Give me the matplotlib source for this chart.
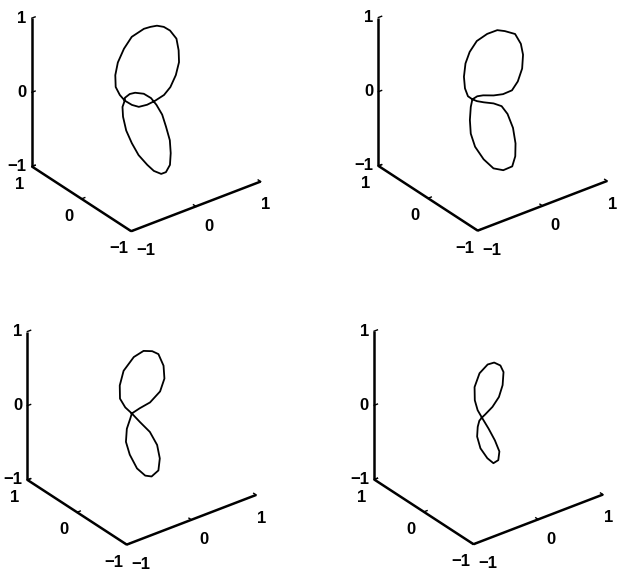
import matplotlib
matplotlib.use("Agg")
import matplotlib.pyplot as plt
from mpl_toolkits.mplot3d import proj3d

# Closed space curves, one per panel (x, y, z samples along the curve)
top_left_x = [-0.21, -0.24, -0.25, -0.21, -0.14, -0.03, 0.09, 0.24, 0.31, 0.38, 0.44, 0.49,
              0.52, 0.50, 0.46, 0.38, 0.28, 0.19, 0.08, -0.01, -0.10, -0.16, -0.21,
              -0.26, -0.29, -0.31, -0.30, -0.28, -0.23, -0.19, -0.13, -0.08, -0.01, 0.04,
              0.08, 0.09, 0.10, 0.08, 0.05, 0.00, -0.08, -0.14, -0.20, -0.21]
top_left_y = [0.16, 0.22, 0.29, 0.35, 0.39, 0.41, 0.41, 0.36, 0.32, 0.28, 0.22, 0.16,
              0.07, 0.00, -0.06, -0.10, -0.12, -0.11, -0.07, -0.03, 0.02, 0.08, 0.16,
              0.14, 0.09, 0.00, -0.10, -0.21, -0.32, -0.40, -0.47, -0.50, -0.49, -0.44,
              -0.37, -0.28, -0.19, -0.10, -0.03, 0.05, 0.12, 0.15, 0.17, 0.16]
top_left_z = [-0.01, 0.05, 0.13, 0.25, 0.38, 0.52, 0.64, 0.72, 0.74, 0.75, 0.74, 0.70,
              0.62, 0.50, 0.38, 0.25, 0.13, 0.05, -0.01, -0.05, -0.07, -0.05, -0.01,
              -0.07, -0.17, -0.31, -0.44, -0.56, -0.66, -0.72, -0.75, -0.73, -0.66, -0.54,
              -0.41, -0.27, -0.15, -0.05, 0.02, 0.06, 0.07, 0.06, 0.02, -0.01]

top_right_x = [-0.20, -0.16, -0.10, -0.01, 0.06, 0.09, 0.09, 0.06, 0.01, -0.06, -0.16, -0.25,
               -0.31, -0.35, -0.34, -0.30, -0.24, -0.20,
               -0.14, -0.08, 0.02, 0.12, 0.22, 0.31, 0.40, 0.46, 0.48, 0.46, 0.37, 0.30,
               0.19, 0.06, -0.05, -0.13, -0.20, -0.23, -0.23, -0.20]
top_right_y = [0.15, 0.11, 0.05, -0.03, -0.10, -0.18, -0.29, -0.38, -0.44, -0.47, -0.42, -0.34,
               -0.22, -0.10, 0.00, 0.07, 0.13, 0.15,
               0.13, 0.09, 0.01, -0.05, -0.10, -0.10, -0.07, -0.01, 0.06, 0.15, 0.24, 0.30,
               0.36, 0.40, 0.40, 0.38, 0.32, 0.26, 0.20, 0.15]
top_right_z = [0.00, -0.02, -0.03, -0.04, -0.07, -0.15, -0.29, -0.45, -0.58, -0.68, -0.72, -0.70,
               -0.61, -0.48, -0.35, -0.21, -0.08, 0.00,
               0.03, 0.04, 0.04, 0.05, 0.09, 0.18, 0.31, 0.45, 0.56, 0.66, 0.69, 0.70,
               0.66, 0.59, 0.48, 0.36, 0.23, 0.11, 0.03, 0.00]

bottom_left_x = [-0.10, -0.05, 0.01, 0.03, 0.01, -0.05, -0.14, -0.20, -0.25, -0.27, -0.26,
                 -0.20, -0.13, -0.10,
                 0.00, 0.12, 0.26, 0.35, 0.39, 0.38, 0.33, 0.25, 0.13, -0.02, -0.11, -0.16,
                 -0.14, -0.10]
bottom_left_y = [0.07, -0.03, -0.15, -0.27, -0.35, -0.40, -0.38, -0.33, -0.23, -0.11, -0.02,
                 0.04, 0.06, 0.07,
                 0.04, -0.01, -0.03, 0.00, 0.07, 0.16, 0.22, 0.29, 0.33, 0.34, 0.30, 0.23,
                 0.15, 0.07]
bottom_left_z = [0.00, -0.09, -0.19, -0.32, -0.46, -0.58, -0.64, -0.63, -0.56, -0.42, -0.29,
                 -0.16, -0.05, 0.00,
                 0.05, 0.11, 0.22, 0.35, 0.48, 0.60, 0.63, 0.63, 0.57, 0.43, 0.28, 0.15,
                 0.06, 0.00]

bottom_right_x = [-0.08, -0.06, -0.04, -0.04, -0.08, -0.14, -0.18, -0.21, -0.20, -0.16, -0.12,
                  -0.08,
                  -0.04, 0.06, 0.16, 0.24, 0.30, 0.29, 0.24, 0.17, 0.06, -0.04, -0.09, -0.10,
                  -0.08]
bottom_right_y = [0.03, -0.08, -0.18, -0.27, -0.30, -0.28, -0.21, -0.11, -0.03, 0.01, 0.03,
                  0.03,
                  0.02, 0.00, 0.00, 0.03, 0.09, 0.14, 0.20, 0.24, 0.26, 0.23, 0.16, 0.09,
                  0.03]
bottom_right_z = [-0.05, -0.16, -0.28, -0.39, -0.48, -0.51, -0.46, -0.36, -0.24, -0.14, -0.08,
                  -0.05,
                  -0.02, 0.06, 0.16, 0.28, 0.41, 0.48, 0.51, 0.49, 0.40, 0.26, 0.13, 0.03,
                  -0.05]

ticks = [-1, 0, 1]
tick_labels = ["\u22121", "0", "1"]
# small nudges of the x tick labels along the axis
x_label_nudge = [-0.01, -0.03, -0.15]

FIG_W, FIG_H = 619, 572
AX_SIZE = 279  # px, square 3d axes
# pixel centres of the four axes (from the top-left of the figure)
centres = [(142.5, 103.6), (489, 103), (138, 417), (484.8, 416.6)]
curves = [
    (top_left_x, top_left_y, top_left_z),
    (top_right_x, top_right_y, top_right_z),
    (bottom_left_x, bottom_left_y, bottom_left_z),
    (bottom_right_x, bottom_right_y, bottom_right_z),
]

FONT = dict(family="Liberation Sans", fontsize=12, fontweight="bold", color="black")


def label(ax, x, y, z, s, **kw):
    # project the 3d anchor and put a plain 2d text there
    xp, yp, _ = proj3d.proj_transform(x, y, z, ax.get_proj())
    ax.text2D(xp, yp, s, transform=ax.transData, **kw, **FONT)


def draw_panel(ax, x, y, z):
    lo, hi = ticks[0], ticks[-1]
    ax.set_proj_type("ortho")
    ax.view_init(elev=30, azim=-127.5)
    ax.set_box_aspect((1, 1, 1.05))
    ax.set_xlim(lo, hi)
    ax.set_ylim(lo, hi)
    ax.set_zlim(lo, hi)
    ax.set_axis_off()
    ax.set_facecolor("none")

    k = dict(color="black", lw=1.8, solid_capstyle="butt")
    # only three edges of the box, MATLAB style
    ax.plot([lo, hi], [lo, lo], [lo, lo], **k)
    ax.plot([lo, lo], [lo, hi], [lo, lo], **k)
    ax.plot([lo, lo], [hi, hi], [lo, hi], **k)

    tl = 0.05
    for t, s, nx in zip(ticks, tick_labels, x_label_nudge):
        # x axis
        ax.plot([t, t], [lo, lo + tl], [lo, lo], color="black", lw=1)
        label(ax, t + nx, lo - 0.3, lo - 0.13, s, ha="center", va="center")
        # y axis
        ax.plot([lo, lo + tl], [t, t], [lo, lo], color="black", lw=1)
        label(ax, lo - 0.22, t - 0.03, lo - 0.15, s, ha="center", va="center")
        # z axis
        ax.plot([lo, lo + tl], [hi, hi], [t, t], color="black", lw=1)
        label(ax, lo - 0.05, hi + 0.04, t, s, ha="right", va="center")

    ax.plot(x, y, z, color="black", lw=1.3)

    ax.set_xlim(lo, hi)
    ax.set_ylim(lo, hi)
    ax.set_zlim(lo, hi)


fig = plt.figure(figsize=(FIG_W / 100, FIG_H / 100), dpi=100)
for (cx, cy), (x, y, z) in zip(centres, curves):
    w = AX_SIZE / FIG_W
    h = AX_SIZE / FIG_H
    ax = fig.add_axes([cx / FIG_W - w / 2, 1 - cy / FIG_H - h / 2, w, h], projection="3d")
    draw_panel(ax, x, y, z)

fig.savefig("out.png", dpi=100, facecolor="white")
